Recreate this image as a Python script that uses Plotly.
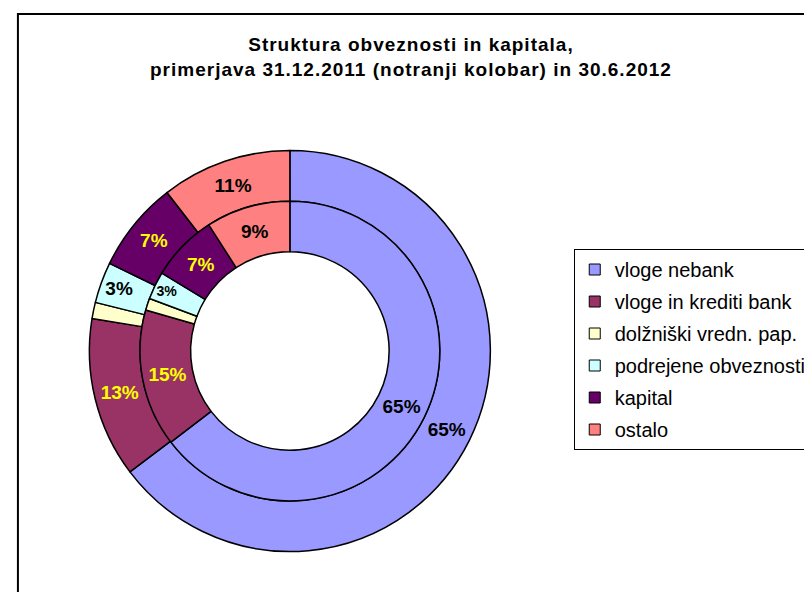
import plotly.graph_objects as go

categories = ["vloge nebank", "vloge in krediti bank", "dolžniški vredn. pap.",
              "podrejene obveznosti", "kapital", "ostalo"]
inner_2011 = [64.6, 14.8, 1.3, 3.0, 7.2, 9.1]   # 31.12.2011 (inner ring)
outer_2012 = [64.7, 12.9, 1.3, 3.3, 7.3, 10.5]  # 30.6.2012 (outer ring)
colors = ["#9999FF", "#993366", "#FFFFCC", "#CCFFFF", "#660066", "#FF8080"]
label_colors = ["black", "#FFFF00", "black", "black", "#FFFF00", "black"]
show_label = [True, True, False, True, True, True]
title_lines = ["Struktura obveznosti in kapitala,",
               "primerjava 31.12.2011 (notranji kolobar) in 30.6.2012"]

OFF = 8                      # page body margin of the html page
W, H = 812 - OFF, 592 - OFF  # figure size so the page fills the window
cx, cy = 292 - OFF, 351 - OFF
R_out, R_mid, R_in = 202, 151, 100
FONT = "Liberation Sans, Arial"

def dom(r):
    return dict(x=[(cx - r) / W, (cx + r) / W], y=[1 - (cy + r) / H, 1 - (cy - r) / H])

tmpl = ["%{percent:.0%}" if s else "" for s in show_label]

fig = go.Figure()
for vals, r, hole in [(outer_2012, R_out, R_mid / R_out), (inner_2011, R_mid, R_in / R_mid)]:
    fig.add_trace(go.Pie(
        labels=categories, values=vals, sort=False, direction="clockwise", rotation=0,
        hole=hole, domain=dom(r),
        marker=dict(colors=colors, line=dict(color="black", width=1.5)),
        texttemplate=tmpl, textposition="inside",
        insidetextorientation="horizontal",
        textfont=dict(family=FONT, size=19, color=label_colors, weight="bold"),
        showlegend=False, hoverinfo="label+percent"))

for i, c in enumerate(categories):
    fig.add_trace(go.Scatter(
        x=[None], y=[None], mode="markers", name=c, legendgroup=c,
        marker=dict(symbol="square", size=11, color=colors[i], line=dict(color="black", width=1))))

fig.add_shape(type="rect", xref="paper", yref="paper",
              x0=(18 - OFF) / W, x1=1.02, y0=-0.02, y1=1 - (14 - OFF) / H,
              line=dict(color="black", width=2), fillcolor="rgba(0,0,0,0)")

title_html = "<br>".join('<span style="letter-spacing:1px">%s</span>' % t for t in title_lines)
fig.add_annotation(text=title_html,
                   xref="paper", yref="paper", x=(414 - OFF) / W, y=1 - (57 - OFF) / H,
                   xanchor="center", yanchor="middle",
                   showarrow=False, font=dict(family=FONT, size=19, color="black", weight="bold"))

fig.update_layout(
    width=W, height=H, autosize=False,
    margin=dict(l=0, r=0, t=0, b=0),
    paper_bgcolor="white", plot_bgcolor="white",
    xaxis=dict(visible=False), yaxis=dict(visible=False),
    legend=dict(x=(578 - OFF) / W, y=1 - (249 - OFF) / H, xanchor="left", yanchor="top",
                bgcolor="white", bordercolor="black", borderwidth=1,
                font=dict(family=FONT, size=20, color="black"),
                tracegroupgap=3, itemwidth=30),
)
fig.write_html("out.html")
